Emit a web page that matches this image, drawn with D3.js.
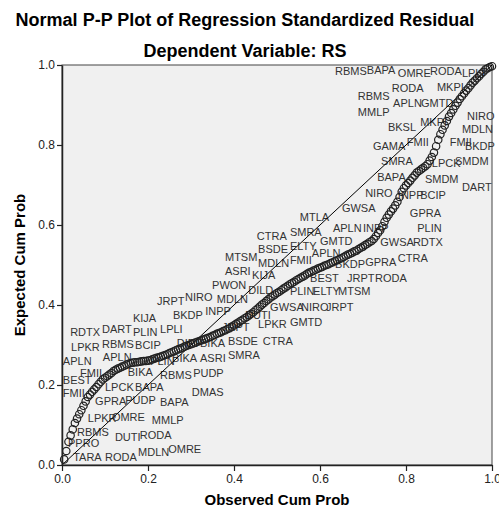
<!DOCTYPE html>
<html>
<head>
<meta charset="utf-8">
<script src="https://cdn.jsdelivr.net/npm/d3@7"></script>
<style>
  html, body { margin: 0; padding: 0; background: #ffffff; }
  svg { display: block; }
  text { font-family: "Liberation Sans", Arial, sans-serif; }
</style>
</head>
<body>
<svg id="chart" width="499" height="510"></svg>
<script>
// ---------------- data ----------------
const titleText = "Normal P-P Plot of Regression Standardized Residual";
const subtitleText = "Dependent Variable: RS";
const xAxisTitle = "Observed Cum Prob";
const yAxisTitle = "Expected Cum Prob";
const tickValues = [0, 0.2, 0.4, 0.6, 0.8, 1.0];
const tickLabels = ["0.0", "0.2", "0.4", "0.6", "0.8", "1.0"];

// expected cumulative probability of each ordered residual (observed = rank / n)
const expectedCumProb = [
  0.014, 0.035, 0.058, 0.074, 0.089, 0.105, 0.116, 0.127, 0.137, 0.148,
  0.159, 0.170, 0.176, 0.183, 0.189, 0.195, 0.202, 0.208, 0.214, 0.218,
  0.222, 0.226, 0.230, 0.235, 0.238, 0.241, 0.243, 0.246, 0.248, 0.251,
  0.253, 0.255, 0.256, 0.257, 0.257, 0.258, 0.259, 0.260, 0.260, 0.261,
  0.262, 0.264, 0.266, 0.268, 0.269, 0.271, 0.273, 0.275, 0.277, 0.280,
  0.282, 0.284, 0.287, 0.289, 0.291, 0.293, 0.296, 0.298, 0.300, 0.302,
  0.304, 0.306, 0.308, 0.310, 0.312, 0.314, 0.316, 0.318, 0.320, 0.323,
  0.325, 0.328, 0.330, 0.332, 0.335, 0.337, 0.340, 0.342, 0.346, 0.349,
  0.353, 0.356, 0.360, 0.363, 0.367, 0.370, 0.374, 0.378, 0.382, 0.387,
  0.391, 0.396, 0.401, 0.405, 0.410, 0.414, 0.419, 0.422, 0.426, 0.430,
  0.433, 0.437, 0.441, 0.444, 0.448, 0.452, 0.455, 0.458, 0.462, 0.465,
  0.468, 0.471, 0.474, 0.478, 0.481, 0.483, 0.486, 0.488, 0.491, 0.493,
  0.495, 0.498, 0.500, 0.502, 0.505, 0.507, 0.510, 0.512, 0.515, 0.517,
  0.520, 0.523, 0.526, 0.528, 0.531, 0.534, 0.536, 0.540, 0.543, 0.546,
  0.550, 0.553, 0.557, 0.560, 0.565, 0.572, 0.580, 0.587, 0.597, 0.608,
  0.618, 0.626, 0.634, 0.641, 0.649, 0.658, 0.670, 0.683, 0.692, 0.699,
  0.705, 0.711, 0.718, 0.724, 0.731, 0.735, 0.739, 0.743, 0.747, 0.752,
  0.761, 0.770, 0.781, 0.797, 0.813, 0.827, 0.838, 0.849, 0.860, 0.871,
  0.880, 0.889, 0.898, 0.906, 0.915, 0.922, 0.929, 0.936, 0.942, 0.949,
  0.956, 0.961, 0.967, 0.972, 0.978, 0.983, 0.989, 0.992, 0.995, 0.997
];

// case labels: [name, observed cum prob, expected cum prob] of each label anchor
const caseLabels = [
  ["RBMS",.635,.975],["BAPA",.709,.978],["OMRE",.781,.970],["RODA",.856,.975],["LPLI",.930,.970],
  ["RODA",.767,.933],["MKPI",.872,.935],["RBMS",.688,.913],["APLN",.770,.895],["GMTD",.835,.895],
  ["MMLP",.688,.873],["NIRO",.942,.863],["MKPI",.833,.848],["BKSL",.758,.835],["MDLN",.930,.830],
  ["FMII",.802,.798],["FMII",.902,.798],["GAMA",.723,.788],["BKDP",.937,.788],["SMRA",.742,.750],
  ["LPCK",.860,.745],["SMDM",.914,.750],["BAPA",.733,.710],["SMDM",.844,.705],["DART",.930,.685],
  ["NIRO",.705,.670],["INPP",.781,.665],["BCIP",.833,.665],["GWSA",.651,.633],["GPRA",.809,.620],
  ["MTLA",.553,.610],["APLN",.630,.583],["INPP",.700,.583],["PLIN",.826,.583],["SMRA",.530,.573],
  ["CTRA",.453,.563],["GMTD",.600,.550],["GWSA",.740,.548],["RDTX",.816,.548],["ELTY",.530,.538],
  ["BSDE",.456,.530],["APLN",.581,.520],["MTSM",.379,.510],["CTRA",.781,.508],["FMII",.530,.503],
  ["MDLN",.456,.495],["BKDP",.635,.493],["GPRA",.705,.498],["ASRI",.379,.475],["KIJA",.442,.465],
  ["BEST",.577,.458],["JRPT",.663,.458],["RODA",.728,.458],["PWON",.349,.440],["DILD",.433,.428],
  ["PLIN",.530,.425],["ELTY",.584,.425],["MTSM",.642,.425],["JRPT",.221,.400],["NIRO",.286,.410],
  ["MDLN",.360,.405],["GWSA",.484,.385],["NIRO",.556,.385],["JRPT",.614,.385],["INPP",.333,.375],
  ["BKDP",.258,.365],["DUTI",.426,.365],["KIJA",.165,.358],["LPKR",.456,.343],["GMTD",.530,.348],
  ["JRPT",.372,.335],["RDTX",.019,.323],["DART",.093,.330],["PLIN",.165,.323],["LPLI",.228,.330],
  ["BSDE",.386,.300],["CTRA",.467,.300],["DIPP",.267,.295],["BIKA",.321,.295],["LPKR",.021,.285],
  ["RBMS",.093,.293],["BCIP",.170,.290],["SMRA",.386,.265],["APLN",.095,.260],["PLIN",.205,.250],
  ["BIKA",.256,.258],["ASRI",.321,.258],["APLN",.002,.250],["FMII",.042,.220],["BIKA",.153,.223],
  ["RBMS",.228,.215],["PUDP",.305,.220],["BEST",.002,.203],["LPCK",.100,.185],["BAPA",.170,.185],
  ["DMAS",.302,.173],["FMII",.002,.170],["GPRA",.077,.150],["PUDP",.147,.153],["BAPA",.228,.148],
  ["LPKR",.060,.108],["OMRE",.116,.110],["MMLP",.209,.103],["RBMS",.035,.073],["DUTI",.123,.060],
  ["RODA",.181,.065],["PPRO",.014,.045],["MDLN",.177,.023],["OMRE",.247,.030],["TARA",.026,.010],
  ["RODA",.100,.010]
];

// ---------------- layout ----------------
const svg = d3.select("#chart");
const plot = { left: 62, top: 65, width: 430, height: 400 };

const x = d3.scaleLinear().domain([0, 1]).range([plot.left, plot.left + plot.width]);
const y = d3.scaleLinear().domain([0, 1]).range([plot.top + plot.height, plot.top]);

// titles
svg.append("text").attr("x", 245).attr("y", 26).attr("text-anchor", "middle")
  .attr("font-size", 18).attr("font-weight", "bold").attr("fill", "#000").text(titleText);
svg.append("text").attr("x", 245).attr("y", 57).attr("text-anchor", "middle")
  .attr("font-size", 18).attr("font-weight", "bold").attr("fill", "#000").text(subtitleText);

// plot background
svg.append("rect").attr("x", plot.left).attr("y", plot.top)
  .attr("width", plot.width).attr("height", plot.height)
  .attr("fill", "#f0f0f0").attr("stroke", "#444").attr("stroke-width", 1);

// case labels
svg.append("g").selectAll("text").data(caseLabels).join("text")
  .attr("x", d => x(d[1])).attr("y", d => y(d[2]))
  .attr("font-size", 11).attr("fill", "#333").text(d => d[0]);

// reference diagonal
svg.append("line")
  .attr("x1", x(0)).attr("y1", y(0)).attr("x2", x(1)).attr("y2", y(1))
  .attr("stroke", "#000").attr("stroke-width", 1);

// points
const n = expectedCumProb.length;
svg.append("g").selectAll("circle").data(expectedCumProb).join("circle")
  .attr("cx", (d, i) => x((i + 1) / n)).attr("cy", d => y(d)).attr("r", 3.7)
  .attr("fill", "none").attr("stroke", "#222").attr("stroke-width", 1.2);

// axes
const fmt = d => tickLabels[tickValues.indexOf(d)];
const xAxis = svg.append("g").attr("transform", `translate(0,${plot.top + plot.height})`)
  .call(d3.axisBottom(x).tickValues(tickValues).tickFormat(fmt).tickSize(6).tickSizeOuter(0).tickPadding(3));
const yAxis = svg.append("g").attr("transform", `translate(${plot.left},0)`)
  .call(d3.axisLeft(y).tickValues(tickValues).tickFormat(fmt).tickSize(5).tickSizeOuter(0).tickPadding(2));
[xAxis, yAxis].forEach(g => {
  g.selectAll("path.domain").attr("stroke", "#222").attr("stroke-width", 1.5);
  g.selectAll(".tick line").attr("stroke", "#222").attr("stroke-width", 1.2);
  g.selectAll(".tick text").attr("font-size", 12).attr("fill", "#222")
    .attr("font-family", "'Liberation Sans', Arial, sans-serif");
});

// axis titles
svg.append("text").attr("x", x(0.5)).attr("y", 505).attr("text-anchor", "middle")
  .attr("font-size", 15).attr("font-weight", "bold").attr("fill", "#000").text(xAxisTitle);
svg.append("text").attr("transform", `translate(25,${y(0.5)}) rotate(-90)`)
  .attr("text-anchor", "middle").attr("font-size", 15).attr("font-weight", "bold")
  .attr("fill", "#000").text(yAxisTitle);
</script>
</body>
</html>
